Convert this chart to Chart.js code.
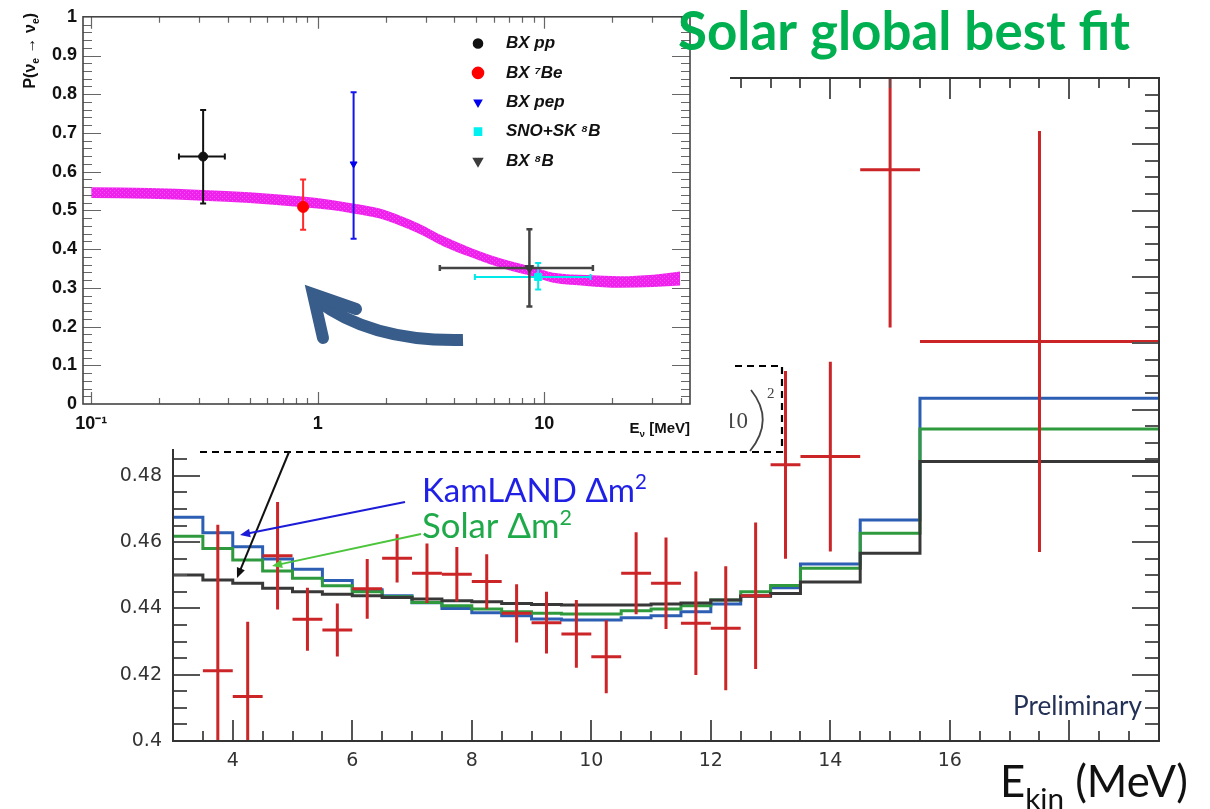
<!DOCTYPE html>
<html>
<head>
<meta charset="utf-8">
<script src="https://cdn.jsdelivr.net/npm/chart.js@4.4.1/dist/chart.umd.min.js"></script>
<style>
  html, body { margin: 0; padding: 0; background: #fff; }
  #wrap { position: relative; width: 1210px; height: 809px; }
  #wrap canvas { position: absolute; left: 0; top: 0; }
</style>
</head>
<body>
<div id="wrap">
  <canvas id="main" width="1210" height="809"></canvas>
  <canvas id="inset" width="1210" height="809"></canvas>
</div>
<script>
// main panel: survival probability vs. kinetic energy
// bin edges (MeV) of the fit histograms, last entry is the right edge of the last bin
const binEdges = [3, 3.5, 4, 4.5, 5, 5.5, 6, 6.5, 7, 7.5, 8, 8.5, 9, 9.5, 10, 10.5, 11, 11.5, 12, 12.5, 13, 13.5, 14.5, 15.5, 19.5];
const kamlandFit = [0.4675, 0.4628, 0.4586, 0.4549, 0.4518, 0.4484, 0.4456, 0.4438, 0.4417, 0.4400, 0.4387, 0.4378, 0.4368, 0.4365, 0.4365, 0.4372, 0.4378, 0.4390, 0.4413, 0.4438, 0.4462, 0.4534, 0.4667, 0.5034];
const solarFit = [0.4618, 0.4581, 0.4546, 0.4513, 0.4491, 0.4468, 0.4450, 0.4435, 0.4418, 0.4408, 0.4398, 0.4390, 0.4385, 0.4383, 0.4383, 0.4393, 0.4398, 0.4408, 0.4425, 0.4450, 0.4469, 0.4521, 0.4627, 0.4941];
const globalFit = [0.4501, 0.4486, 0.4476, 0.4461, 0.4450, 0.4443, 0.4438, 0.4433, 0.4428, 0.4423, 0.4420, 0.4415, 0.4412, 0.4410, 0.4410, 0.4410, 0.4413, 0.4416, 0.4425, 0.4437, 0.4445, 0.4480, 0.4566, 0.4843];

// measured points: bin centre, half bin width, value, error
const dataE = [3.75, 4.25, 4.75, 5.25, 5.75, 6.25, 6.75, 7.25, 7.75, 8.25, 8.75, 9.25, 9.75, 10.25, 10.75, 11.25, 11.75, 12.25, 12.75, 13.25, 14, 15, 17.5];
const dataEHalf = [0.25, 0.25, 0.25, 0.25, 0.25, 0.25, 0.25, 0.25, 0.25, 0.25, 0.25, 0.25, 0.25, 0.25, 0.25, 0.25, 0.25, 0.25, 0.25, 0.25, 0.5, 0.5, 2];
const dataP = [0.4212, 0.4134, 0.4559, 0.4367, 0.4335, 0.4459, 0.4551, 0.4506, 0.4503, 0.4481, 0.4385, 0.4357, 0.4323, 0.4254, 0.4506, 0.4476, 0.4355, 0.4340, 0.4438, 0.4833, 0.4858, 0.5723, 0.5205];
const dataPErr = [0.0440, 0.0226, 0.0162, 0.0095, 0.0080, 0.0090, 0.0073, 0.0090, 0.0082, 0.0082, 0.0088, 0.0093, 0.0102, 0.0110, 0.0124, 0.0138, 0.0156, 0.0187, 0.0221, 0.0283, 0.0286, 0.0476, 0.0635];
const mainXLabels = [4, 6, 8, 10, 12, 14, 16];

// inset: Pee vs neutrino energy
const insetNames = ['BX pp', 'BX \u2077Be', 'BX pep', 'SNO+SK \u2078B', 'BX \u2078B'];
const insetE = [0.312, 0.862, 1.44, 9.4, 8.6];
const insetELow = [0.244, null, null, 4.94, 3.46];
const insetEHigh = [0.389, null, null, 16.0, 16.4];
const insetP = [0.639, 0.509, 0.620, 0.328, 0.351];
const insetPLow = [0.518, 0.450, 0.427, 0.296, 0.252];
const insetPHigh = [0.759, 0.580, 0.805, 0.364, 0.451];

// MSW-LMA prediction band
const bandE = [0.1, 0.18, 0.31, 0.5, 0.86, 1.15, 1.43, 1.88, 2.3, 2.82, 3.6, 4.69, 5.8, 7.05, 8.75, 10.96, 15.4, 21.6, 30.3, 39.8];
const bandHigh = [0.560, 0.558, 0.553, 0.547, 0.536, 0.527, 0.518, 0.505, 0.487, 0.465, 0.433, 0.404, 0.384, 0.369, 0.355, 0.339, 0.333, 0.330, 0.334, 0.342];
const bandLow = [0.532, 0.530, 0.525, 0.519, 0.508, 0.501, 0.492, 0.479, 0.461, 0.439, 0.407, 0.380, 0.360, 0.345, 0.331, 0.313, 0.305, 0.300, 0.302, 0.306];

const insetXTickVals = [0.1, 1, 10];
const insetXTickText = ['10\u207B\u00B9', '1', '10'];

// ---------- helpers ----------
function stepPoints(vals) {
  return binEdges.map((e, i) => ({ x: e, y: vals[Math.min(i, vals.length - 1)] }));
}

function richWidth(ctx, parts, size, font) {
  let w = 0;
  parts.forEach(p => { ctx.font = font(size * (p.k || 1)); w += ctx.measureText(p.t).width; });
  return w;
}

function drawRich(ctx, parts, x, y, size, font, align) {
  let cx = align === 'right' ? x - richWidth(ctx, parts, size, font) : x;
  ctx.textAlign = 'left';
  ctx.textBaseline = 'alphabetic';
  parts.forEach(p => {
    ctx.font = font(size * (p.k || 1));
    ctx.fillText(p.t, cx, y + (p.dy || 0) * size);
    cx += ctx.measureText(p.t).width;
  });
}

function fitSize(ctx, parts, width, font) {
  return 100 * width / richWidth(ctx, parts, 100, font);
}

function arrow(ctx, x1, y1, x2, y2, color, head) {
  const a = Math.atan2(y2 - y1, x2 - x1);
  ctx.strokeStyle = color;
  ctx.fillStyle = color;
  ctx.lineWidth = 2;
  ctx.beginPath();
  ctx.moveTo(x1, y1);
  ctx.lineTo(x2 - Math.cos(a) * head * 0.7, y2 - Math.sin(a) * head * 0.7);
  ctx.stroke();
  ctx.beginPath();
  ctx.moveTo(x2, y2);
  ctx.lineTo(x2 - head * Math.cos(a - 0.4), y2 - head * Math.sin(a - 0.4));
  ctx.lineTo(x2 - head * Math.cos(a + 0.4), y2 - head * Math.sin(a + 0.4));
  ctx.closePath();
  ctx.fill();
}

// speckled magenta fill for the prediction band
function bandPattern() {
  const c = document.createElement('canvas');
  c.width = 4; c.height = 4;
  const g = c.getContext('2d');
  g.fillStyle = '#ef22ed';
  g.fillRect(0, 0, 4, 4);
  g.fillStyle = '#f45af2';
  g.fillRect(0, 0, 1, 1);
  g.fillRect(2, 2, 1, 1);
  return g.createPattern(c, 'repeat');
}

const lato = s => `${s}px Lato, "Open Sans", sans-serif`;
const latoBold = s => `bold ${s}px Lato, "Open Sans", sans-serif`;
const helvBold = s => `bold ${s}px "Liberation Sans", Arial, sans-serif`;
const helvBoldIt = s => `italic bold ${s}px "Liberation Sans", Arial, sans-serif`;

// ---------- main chart ----------
const mainDecor = {
  id: 'mainDecor',
  afterDatasetsDraw(chart) {
    const { ctx, chartArea: a, scales: { x, y } } = chart;
    ctx.save();
    ctx.beginPath();
    ctx.rect(a.left, a.top, a.right - a.left, a.bottom - a.top);
    ctx.clip();
    ctx.strokeStyle = '#cb2528';
    ctx.lineWidth = 3;
    dataE.forEach((e, i) => {
      const px = x.getPixelForValue(e);
      const py = y.getPixelForValue(dataP[i]);
      ctx.beginPath();
      ctx.moveTo(px, y.getPixelForValue(dataP[i] - dataPErr[i]));
      ctx.lineTo(px, y.getPixelForValue(dataP[i] + dataPErr[i]));
      ctx.moveTo(x.getPixelForValue(e - dataEHalf[i]), py);
      ctx.lineTo(x.getPixelForValue(e + dataEHalf[i]), py);
      ctx.stroke();
    });
    ctx.restore();
  },
  afterDraw(chart) {
    const { ctx, chartArea: a, scales: { x, y } } = chart;
    ctx.save();
    // tick marks on all four sides, pointing inwards
    ctx.strokeStyle = '#555';
    ctx.lineWidth = 2;
    ctx.beginPath();
    for (let i = 1; i < 40; i++) {
      const py = Math.round(y.getPixelForValue(0.4 + i * 0.005));
      const len = i % 4 === 0 ? 27 : 14;
      ctx.moveTo(a.left, py); ctx.lineTo(a.left + len, py);
      ctx.moveTo(a.right, py); ctx.lineTo(a.right - len, py);
    }
    for (let i = 1; i < 33; i++) {
      const v = 3 + i * 0.5;
      const px = Math.round(x.getPixelForValue(v));
      const len = v % 2 === 0 ? 21 : 10;
      ctx.moveTo(px, a.bottom); ctx.lineTo(px, a.bottom - len);
      ctx.moveTo(px, a.top); ctx.lineTo(px, a.top + len);
    }
    ctx.stroke();
    ctx.strokeStyle = '#333';
    ctx.lineWidth = 2;
    ctx.strokeRect(a.left, a.top, a.right - a.left, a.bottom - a.top);

    // dashed formula box and its visible corner
    ctx.strokeStyle = '#000';
    ctx.lineWidth = 2.2;
    ctx.setLineDash([7, 5]);
    ctx.beginPath();
    ctx.moveTo(200, 452); ctx.lineTo(782, 452); ctx.lineTo(782, 366); ctx.lineTo(700, 366);
    ctx.stroke();
    ctx.setLineDash([]);
    ctx.fillStyle = '#444';
    ctx.textAlign = 'right';
    ctx.textBaseline = 'alphabetic';
    ctx.font = '23px "Liberation Serif", serif';
    ctx.fillText('10', 748, 428);
    ctx.textAlign = 'left';
    ctx.font = '15px "Liberation Serif", serif';
    ctx.fillText('2', 767, 398);
    ctx.strokeStyle = '#444';
    ctx.lineWidth = 1.8;
    ctx.beginPath();
    ctx.moveTo(751, 390);
    ctx.quadraticCurveTo(775, 420, 750, 451);
    ctx.stroke();

    // pointers to the fit curves
    arrow(ctx, 289, 452, 237, 578, '#111', 11);
    arrow(ctx, 405, 502, 240, 535, '#1c1cd8', 11);
    arrow(ctx, 421, 534, 272, 566, '#4cc43c', 11);

    const kam = [{ t: 'KamLAND \u0394m' }, { t: '2', k: 0.62, dy: -0.38 }];
    ctx.fillStyle = '#1f1fe6';
    drawRich(ctx, kam, 422, 502, fitSize(ctx, kam, 225, lato), lato);
    const sol = [{ t: 'Solar \u0394m' }, { t: '2', k: 0.62, dy: -0.38 }];
    ctx.fillStyle = '#1faa4a';
    drawRich(ctx, sol, 422, 538, fitSize(ctx, sol, 150, lato), lato);

    const pre = [{ t: 'Preliminary' }];
    ctx.fillStyle = '#243156';
    drawRich(ctx, pre, 1142, 715, fitSize(ctx, pre, 129, lato), lato, 'right');

    const ek = [{ t: 'E' }, { t: 'kin', k: 0.68, dy: 0.27 }, { t: ' (MeV)' }];
    ctx.fillStyle = '#111';
    drawRich(ctx, ek, 1000, 797, fitSize(ctx, ek, 188, lato), lato);
    ctx.restore();
  }
};

function histo(label, vals, color) {
  return {
    label, data: stepPoints(vals), stepped: 'before',
    borderColor: color, borderWidth: 3, pointRadius: 0, fill: false
  };
}

new Chart(document.getElementById('main'), {
  type: 'line',
  data: {
    datasets: [
      histo('Global fit', globalFit, '#383838'),
      histo('Solar \u0394m\u00B2', solarFit, '#2f9a3d'),
      histo('KamLAND \u0394m\u00B2', kamlandFit, '#2c5fb3'),
      {
        type: 'scatter', label: 'Data',
        data: dataE.map((e, i) => ({ x: e, y: dataP[i] })),
        pointRadius: 0
      }
    ]
  },
  options: {
    responsive: false,
    animation: false,
    devicePixelRatio: 1,
    layout: { padding: { top: 78, right: 51, left: 0, bottom: 0 } },
    plugins: { legend: { display: false }, tooltip: { enabled: false } },
    scales: {
      x: {
        type: 'linear', min: 3, max: 19.5,
        grid: { display: false, drawTicks: false }, border: { display: false },
        ticks: {
          stepSize: 2, autoSkip: false, maxRotation: 0, padding: 9,
          color: '#333', font: { family: 'DejaVu Sans', size: 19 },
          callback: v => mainXLabels.includes(v) ? String(v) : ''
        },
        afterFit: s => { s.height = 68; }
      },
      y: {
        min: 0.4, max: 0.6,
        grid: { display: false, drawTicks: false }, border: { display: false },
        ticks: {
          stepSize: 0.02, autoSkip: false, padding: 11,
          color: '#333', font: { family: 'DejaVu Sans', size: 19 },
          callback: v => String(parseFloat(v.toFixed(2)))
        },
        afterFit: s => { s.width = 173; }
      }
    }
  },
  plugins: [mainDecor]
});

// ---------- inset chart ----------
const insetStyle = [
  { color: '#111111', bar: '#111111', pointStyle: 'circle', radius: 4.5, rotation: 0 },
  { color: '#ff0000', bar: '#ff2a2a', pointStyle: 'circle', radius: 5.5, rotation: 0 },
  { color: '#0000ee', bar: '#1414ee', pointStyle: 'triangle', radius: 4, rotation: 180 },
  { color: '#00f0f0', bar: '#00eaea', pointStyle: 'rect', radius: 5, rotation: 0 },
  { color: '#3c3c3c', bar: '#444444', pointStyle: 'triangle', radius: 5, rotation: 180 }
];
const BAND_INDEX = insetE.length;

function insetErrorBars(chart) {
  const { ctx, scales: { x, y } } = chart;
  ctx.save();
  insetE.forEach((e, i) => {
    const st = insetStyle[i];
    const px = x.getPixelForValue(e);
    const py = y.getPixelForValue(insetP[i]);
    const top = y.getPixelForValue(insetPHigh[i]);
    const bot = y.getPixelForValue(insetPLow[i]);
    ctx.strokeStyle = st.bar;
    ctx.lineWidth = i === 4 ? 2.5 : 2;
    ctx.beginPath();
    ctx.moveTo(px, top); ctx.lineTo(px, bot);
    ctx.moveTo(px - 3, top); ctx.lineTo(px + 3, top);
    ctx.moveTo(px - 3, bot); ctx.lineTo(px + 3, bot);
    if (insetELow[i] !== null) {
      const l = x.getPixelForValue(insetELow[i]);
      const r = x.getPixelForValue(insetEHigh[i]);
      ctx.moveTo(l, py); ctx.lineTo(r, py);
      ctx.moveTo(l, py - 3); ctx.lineTo(l, py + 3);
      ctx.moveTo(r, py - 3); ctx.lineTo(r, py + 3);
    }
    ctx.stroke();
  });
  ctx.restore();
}

const insetDecor = {
  id: 'insetDecor',
  beforeDraw(chart) {
    const { ctx } = chart;
    ctx.save();
    ctx.fillStyle = '#fff';
    ctx.fillRect(0, 0, 730, 449);
    ctx.restore();
  },
  afterDatasetDraw(chart, args) {
    if (args.index === BAND_INDEX) insetErrorBars(chart);
  },
  afterDraw(chart) {
    const { ctx, chartArea: a, scales: { x, y } } = chart;
    ctx.save();
    // ticks
    ctx.strokeStyle = '#666';
    ctx.lineWidth = 1.2;
    ctx.beginPath();
    for (let i = 1; i < 50; i++) {
      const py = Math.round(y.getPixelForValue(i * 0.02)) + 0.5;
      const len = i % 5 === 0 ? 18 : 9;
      ctx.moveTo(a.left, py); ctx.lineTo(a.left + len, py);
      ctx.moveTo(a.right, py); ctx.lineTo(a.right - len, py);
    }
    for (let k = -2; k <= 1; k++) {
      for (let m = 1; m <= 9; m++) {
        const v = m * Math.pow(10, k);
        if (v <= x.min || v >= x.max) continue;
        const px = Math.round(x.getPixelForValue(v)) + 0.5;
        const len = m === 1 ? 12 : 6;
        ctx.moveTo(px, a.bottom); ctx.lineTo(px, a.bottom - len);
        ctx.moveTo(px, a.top); ctx.lineTo(px, a.top + len);
      }
    }
    ctx.stroke();
    ctx.strokeStyle = '#444';
    ctx.lineWidth = 1.6;
    ctx.strokeRect(a.left, a.top, a.right - a.left, a.bottom - a.top);

    // axis titles
    ctx.fillStyle = '#111';
    drawRich(ctx, [{ t: 'E' }, { t: '\u03BD', k: 0.65, dy: 0.25 }, { t: ' [MeV]' }], 690, 433, 15, helvBold, 'right');
    ctx.save();
    ctx.translate(35, 13);
    ctx.rotate(-Math.PI / 2);
    drawRich(ctx, [{ t: 'P(\u03BD' }, { t: 'e', k: 0.65, dy: 0.28 }, { t: ' \u2192 \u03BD' }, { t: 'e', k: 0.65, dy: 0.28 }, { t: ')' }], 0, 0, 16, helvBold, 'right');
    ctx.restore();

    // legend
    insetNames.forEach((name, i) => {
      const st = insetStyle[i];
      const ly = 43.5 + i * 29.4;
      ctx.fillStyle = st.color;
      ctx.strokeStyle = st.color;
      Chart.helpers.drawPoint(ctx, { pointStyle: st.pointStyle, radius: st.radius, rotation: st.rotation, borderWidth: 1 }, 478, ly);
      ctx.fillStyle = '#111';
      ctx.font = helvBoldIt(17);
      ctx.textAlign = 'left';
      ctx.textBaseline = 'middle';
      ctx.fillText(name, 506, ly);
    });

    // curved pointer from the main panel towards the inset
    ctx.strokeStyle = '#385d8a';
    ctx.lineWidth = 12;
    ctx.lineCap = 'butt';
    ctx.beginPath();
    ctx.moveTo(463, 340);
    ctx.quadraticCurveTo(372, 342, 318, 301);
    ctx.stroke();
    ctx.lineCap = 'round';
    ctx.lineJoin = 'miter';
    ctx.beginPath();
    ctx.moveTo(356, 309);
    ctx.lineTo(313, 294);
    ctx.lineTo(323, 338);
    ctx.stroke();

    // panel title
    const title = [{ t: 'Solar global best fit' }];
    ctx.fillStyle = '#00b050';
    drawRich(ctx, title, 678, 50, fitSize(ctx, title, 452, latoBold), latoBold);
    ctx.restore();
  }
};

const pointSets = insetE.map((e, i) => ({
  type: 'scatter', label: insetNames[i],
  data: [{ x: e, y: insetP[i] }],
  pointStyle: insetStyle[i].pointStyle,
  pointRotation: insetStyle[i].rotation,
  pointRadius: insetStyle[i].radius,
  backgroundColor: insetStyle[i].color,
  borderColor: insetStyle[i].color,
  borderWidth: 1
}));

new Chart(document.getElementById('inset'), {
  type: 'line',
  data: {
    datasets: pointSets.concat([
      {
        label: 'LMA high', data: bandE.map((e, i) => ({ x: e, y: bandHigh[i] })),
        borderWidth: 0, borderColor: 'rgba(0,0,0,0)', pointRadius: 0,
        cubicInterpolationMode: 'monotone', fill: '+1', backgroundColor: bandPattern()
      },
      {
        label: 'LMA low', data: bandE.map((e, i) => ({ x: e, y: bandLow[i] })),
        borderWidth: 0, borderColor: 'rgba(0,0,0,0)', pointRadius: 0,
        cubicInterpolationMode: 'monotone', fill: false
      }
    ])
  },
  options: {
    responsive: false,
    animation: false,
    devicePixelRatio: 1,
    layout: { padding: { top: 13, right: 520, left: 0, bottom: 0 } },
    plugins: { legend: { display: false }, tooltip: { enabled: false } },
    scales: {
      x: {
        type: 'logarithmic', min: 0.092, max: 44,
        grid: { display: false, drawTicks: false }, border: { display: false },
        ticks: {
          autoSkip: false, maxRotation: 0, padding: 9,
          color: '#111', font: { family: 'Liberation Sans', size: 18, weight: 'bold' },
          callback: v => {
            const i = insetXTickVals.findIndex(t => Math.abs(v - t) / t < 1e-6);
            return i >= 0 ? insetXTickText[i] : '';
          }
        },
        afterFit: s => { s.height = 405; }
      },
      y: {
        min: 0, max: 1,
        grid: { display: false, drawTicks: false }, border: { display: false },
        ticks: {
          stepSize: 0.1, autoSkip: false, padding: 6,
          color: '#111', font: { family: 'Liberation Sans', size: 18, weight: 'bold' },
          callback: v => (v === 0 || v === 1) ? String(v) : v.toFixed(1)
        },
        afterFit: s => { s.width = 83; }
      }
    }
  },
  plugins: [insetDecor]
});
</script>
</body>
</html>
